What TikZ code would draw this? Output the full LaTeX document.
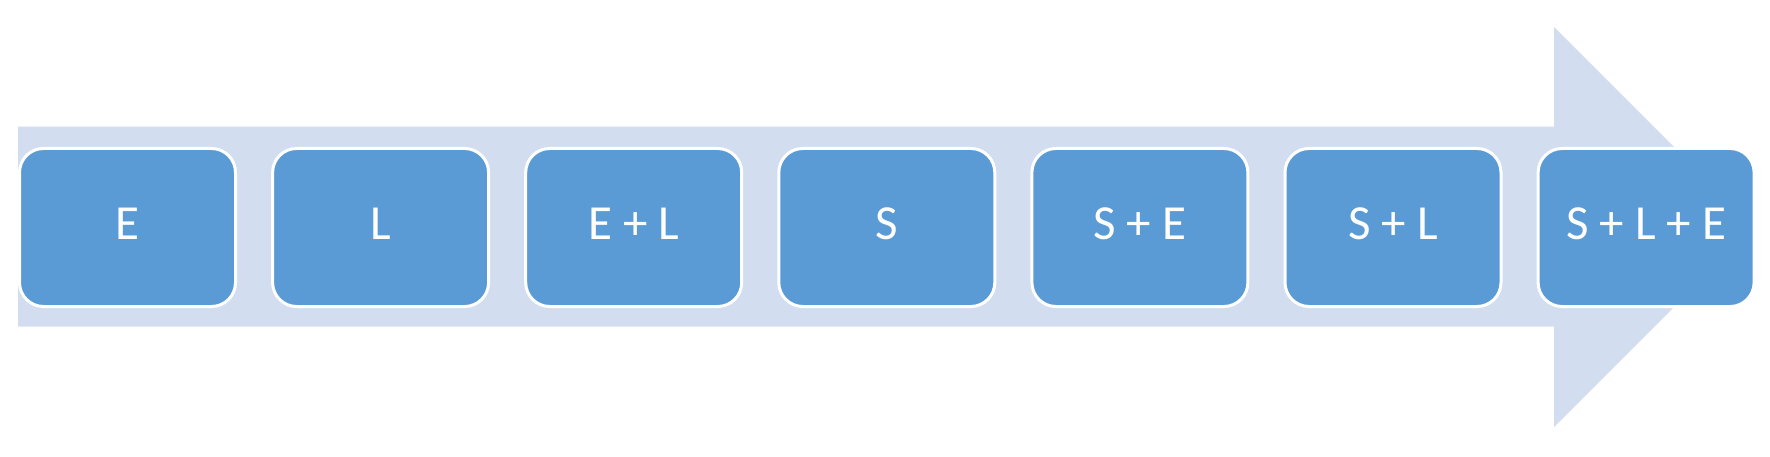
\documentclass[tikz,border=0pt]{standalone}
\usepackage{fontspec}
\setmainfont{Carlito}
\definecolor{arrowfill}{HTML}{D2DEEF}
\definecolor{boxfill}{HTML}{5B9BD5}
\begin{document}
\begin{tikzpicture}[x=1pt,y=-1pt,
  stagebox/.style={draw=white, line width=3pt, fill=boxfill, rounded corners=24pt,
    minimum width=216pt, minimum height=158pt, inner sep=0pt, outer sep=0pt, anchor=north west},
  stagetext/.style={text=white, font=\fontsize{49}{58}\selectfont, anchor=base, inner sep=0pt}]
\useasboundingbox (0,0) rectangle (1770,457);
\fill[arrowfill] (18,126.7) -- (1554,126.7) -- (1554,27) -- (1754,227) -- (1554,427) -- (1554,326.7) -- (18,326.7) -- cycle;
\node[stagebox] (b0) at (19.5,148.5) {};
\node[stagebox] (b1) at (272.6,148.5) {};
\node[stagebox] (b2) at (525.7,148.5) {};
\node[stagebox] (b3) at (778.8,148.5) {};
\node[stagebox] (b4) at (1031.9,148.5) {};
\node[stagebox] (b5) at (1285.0,148.5) {};
\node[stagebox] (b6) at (1538.1,148.5) {};
\node[stagetext] (t0) at ([yshift=-12.5pt]b0.center) {E};
\node[stagetext] (t1) at ([yshift=-12.5pt]b1.center) {L};
\node[stagetext] (t2) at ([yshift=-12.5pt]b2.center) {E\ +\ L};
\node[stagetext] (t3) at ([yshift=-12.5pt]b3.center) {S};
\node[stagetext] (t4) at ([yshift=-12.5pt]b4.center) {S\ +\ E};
\node[stagetext] (t5) at ([yshift=-12.5pt]b5.center) {S\ +\ L};
\node[stagetext] (t6) at ([yshift=-12.5pt]b6.center) {S\ +\ L\ +\ E};
\end{tikzpicture}
\end{document}
